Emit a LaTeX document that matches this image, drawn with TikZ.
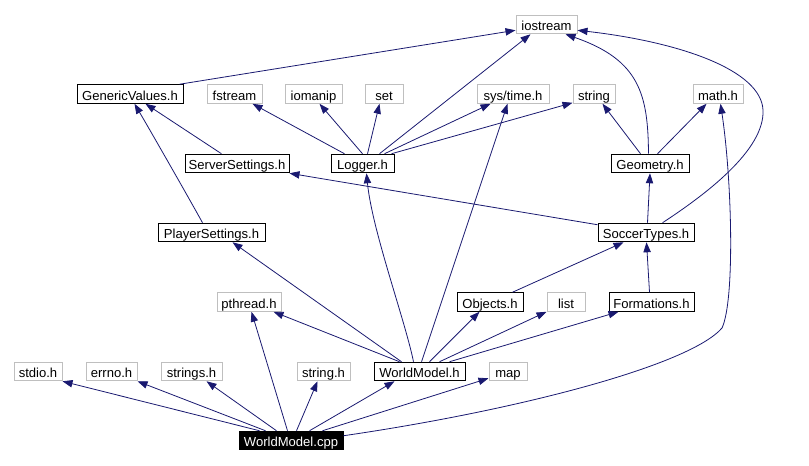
\documentclass[tikz,border=0pt]{standalone}
\usepackage{fontspec}
\setmainfont{Liberation Sans}
\usetikzlibrary{arrows.meta,calc}
\definecolor{edgecol}{RGB}{25,25,112}
\definecolor{graybox}{RGB}{191,191,191}
\tikzset{
  box/.style={draw=black, line width=0.75pt, inner sep=0pt, minimum height=13.9pt, text height=9.5pt, text depth=0pt, font=\fontsize{9.8}{11}\selectfont, fill=white},
  gbox/.style={box, draw=graybox},
  bbox/.style={box, fill=black, text=white, draw=black},
  wd/.style={minimum width=#1*0.75pt},
  e/.style={draw=edgecol, line width=0.6pt, -{Triangle[length=7.5pt,width=5.5pt,fill=edgecol]}}
}
\begin{document}
\begin{tikzpicture}[x=0.75pt,y=-0.75pt]
\useasboundingbox (0,0) rectangle (809,465);
% nodes
\node[gbox,wd=61] (ios) at (546.5,24.5) {iostream};
\node[box,wd=106] (gv) at (130,94) {GenericValues.h};
\node[gbox,wd=55] (fs) at (234.5,94) {fstream};
\node[gbox,wd=57] (iom) at (313.5,94) {iomanip};
\node[gbox,wd=38] (nset) at (384,94) {set};
\node[gbox,wd=72] (syst) at (513,94) {sys/time.h};
\node[gbox,wd=42] (str) at (594,94) {string};
\node[gbox,wd=50] (math) at (718,94) {math.h};
\node[box,wd=104] (ss) at (237,163.5) {ServerSettings.h};
\node[box,wd=63] (log) at (362.5,163.5) {Logger.h};
\node[box,wd=78] (geo) at (650,163.5) {Geometry.h};
\node[box,wd=107] (ps) at (211.5,232.5) {PlayerSettings.h};
\node[box,wd=96] (st) at (646,232.5) {SoccerTypes.h};
\node[gbox,wd=64] (pth) at (249,302) {pthread.h};
\node[box,wd=66] (obj) at (490,302) {Objects.h};
\node[gbox,wd=38] (lst) at (566,302) {list};
\node[box,wd=85] (form) at (651.5,302) {Formations.h};
\node[gbox,wd=48] (stdio) at (38,371.5) {stdio.h};
\node[gbox,wd=51] (errno) at (111.5,371.5) {errno.h};
\node[gbox,wd=61] (strs) at (191.5,371.5) {strings.h};
\node[gbox,wd=53] (strh) at (323.5,371.5) {string.h};
\node[box,wd=91] (wmh) at (419.5,371.5) {WorldModel.h};
\node[gbox,wd=38] (map) at (508,371.5) {map};
\node[bbox,wd=104] (cpp) at (291,440.5) {WorldModel.cpp};
% edges
\draw[e] ($(gv.north west)+(103,0)$) -- ($(ios.south west)+(0,-4)$);
\draw[e] ($(ss.north west)+(37,0)$) -- ($(gv.south west)+(69,0)$);
\draw[e] ($(ps.north west)+(45,0)$) .. controls (190,200) and (150,130) .. ($(gv.south west)+(58,0)$);
\draw[e] ($(log.north west)+(14,0)$) -- ($(fs.south west)+(46,0)$);
\draw[e] ($(log.north west)+(32,0)$) -- ($(iom.south west)+(35,0)$);
\draw[e] ($(log.north west)+(37,0)$) -- ($(nset.south west)+(15,0)$);
\draw[e] ($(log.north west)+(49,0)$) -- ($(ios.south west)+(15,0)$);
\draw[e] ($(log.north west)+(54,0)$) -- ($(syst.south west)+(14,0)$);
\draw[e] ($(log.north west)+(61,0)$) -- ($(str.south west)+(0,-1)$);
\draw[e] ($(geo.north west)+(30,0)$) -- ($(str.south west)+(30,0)$);
\draw[e] ($(geo.north west)+(38,0)$) .. controls (648,95) and (640,60) .. ($(ios.south west)+(50,0)$);
\draw[e] ($(geo.north west)+(47,0)$) -- ($(math.south west)+(14,0)$);
\draw[e] ($(st.north west)+(50,0)$) -- (geo.south);
\draw[e] ($(st.north west)+(0,2)$) -- (ss.south east);
\draw[e] ($(st.north west)+(65,0)$) .. controls (705,195) and (765,150) .. (763,110) .. controls (761,70) and (680,42) .. ($(ios.south east)+(0,-4)$);
\draw[e] ($(obj.north west)+(56,0)$) -- ($(st.south west)+(26,0)$);
\draw[e] ($(form.north west)+(41,0)$) -- ($(st.south west)+(49,0)$);
\draw[e] ($(wmh.north west)+(28,0)$) -- ($(ps.south west)+(75,0)$);
\draw[e] ($(wmh.north west)+(26,0)$) -- ($(pth.south west)+(57,0)$);
\draw[e] ($(wmh.north west)+(40,0)$) .. controls (405,320) and (372,230) .. ($(log.south west)+(36,0)$);
\draw[e] ($(wmh.north west)+(48,0)$) -- ($(syst.south west)+(31,0)$);
\draw[e] ($(wmh.north west)+(56,0)$) -- ($(obj.south west)+(23,0)$);
\draw[e] ($(wmh.north west)+(66,0)$) -- (lst.south west);
\draw[e] ($(wmh.north west)+(76,0)$) -- ($(form.south west)+(10,0)$);
\draw[e] ($(cpp.north west)+(21,0)$) -- (stdio.south east);
\draw[e] ($(cpp.north west)+(27,0)$) -- (errno.south east);
\draw[e] ($(cpp.north west)+(38,0)$) -- ($(strs.south west)+(46,0)$);
\draw[e] ($(cpp.north west)+(49,0)$) -- ($(pth.south west)+(35,0)$);
\draw[e] ($(cpp.north west)+(58,0)$) -- ($(strh.south west)+(21,0)$);
\draw[e] ($(cpp.north west)+(71,0)$) -- ($(wmh.south west)+(21,0)$);
\draw[e] ($(cpp.north west)+(84,0)$) -- ($(map.south west)+(0,-3)$);
\draw[e] ($(cpp.north east)+(0,5)$) .. controls (520,410) and (690,365) .. (722,328) .. controls (735,300) and (732,180) .. ($(math.south west)+(28,0)$);
\end{tikzpicture}
\end{document}
